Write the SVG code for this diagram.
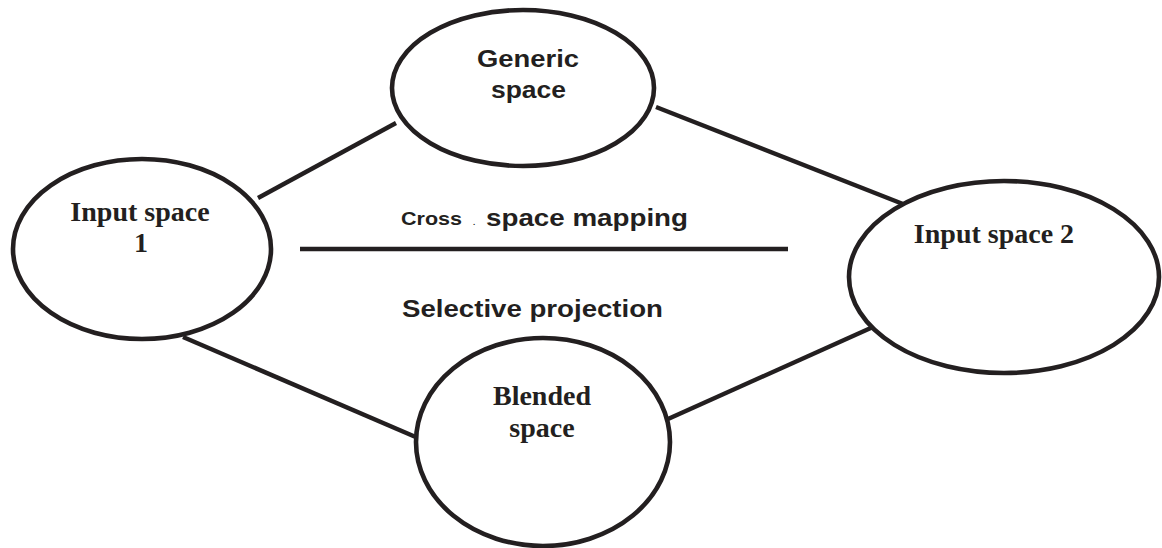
<svg xmlns="http://www.w3.org/2000/svg" width="1162" height="548" viewBox="0 0 1162 548">
<style>
.node{fill:#fff;stroke:#231f20;stroke-width:4.6}
.edge{stroke:#231f20;stroke-width:4.4;stroke-linecap:butt;fill:none}
.serif{font-family:"Liberation Serif","Times New Roman",serif;font-weight:bold;font-size:28px;fill:#231f20;text-anchor:middle}
.sans{font-family:"Liberation Sans",Arial,sans-serif;font-weight:bold;fill:#231f20}
</style>
<rect width="1162" height="548" fill="#fff"/>
<g id="connectors">
<line class="edge" x1="258" y1="198" x2="396" y2="123"/>
<line class="edge" x1="656" y1="107" x2="903" y2="204"/>
<line class="edge" x1="183" y1="337" x2="418" y2="438"/>
<line class="edge" x1="668" y1="419" x2="873" y2="327"/>
<line class="edge" x1="300" y1="249" x2="788" y2="249" stroke-linecap="round"/>
</g>
<g id="generic-space">
<ellipse class="node" cx="523" cy="88" rx="131" ry="78"/>
<text class="sans" x="477" y="67" font-size="23" textLength="102" lengthAdjust="spacingAndGlyphs">Generic</text>
<text class="sans" x="491" y="98" font-size="23" textLength="75" lengthAdjust="spacingAndGlyphs">space</text>
</g>
<g id="input-space-1">
<ellipse class="node" cx="142" cy="249" rx="129" ry="90"/>
<text class="serif" x="140" y="221">Input space</text>
<text class="serif" x="141" y="252">1</text>
</g>
<g id="input-space-2">
<ellipse class="node" cx="1004" cy="277" rx="155" ry="96"/>
<text class="serif" x="994" y="243">Input space 2</text>
</g>
<g id="blended-space">
<ellipse class="node" cx="543" cy="442" rx="127" ry="104"/>
<text class="serif" x="542" y="405">Blended</text>
<text class="serif" x="542" y="437">space</text>
</g>
<g id="labels">
<text class="sans" x="401" y="225" font-size="19" textLength="61" lengthAdjust="spacingAndGlyphs">Cross</text>
<text class="sans" x="473" y="225" font-size="8" fill="#999">.</text>
<text class="sans" x="486" y="226" font-size="24" textLength="202" lengthAdjust="spacingAndGlyphs">space mapping</text>
<text class="sans" x="402" y="317" font-size="23" textLength="261" lengthAdjust="spacingAndGlyphs">Selective projection</text>
</g>
</svg>
